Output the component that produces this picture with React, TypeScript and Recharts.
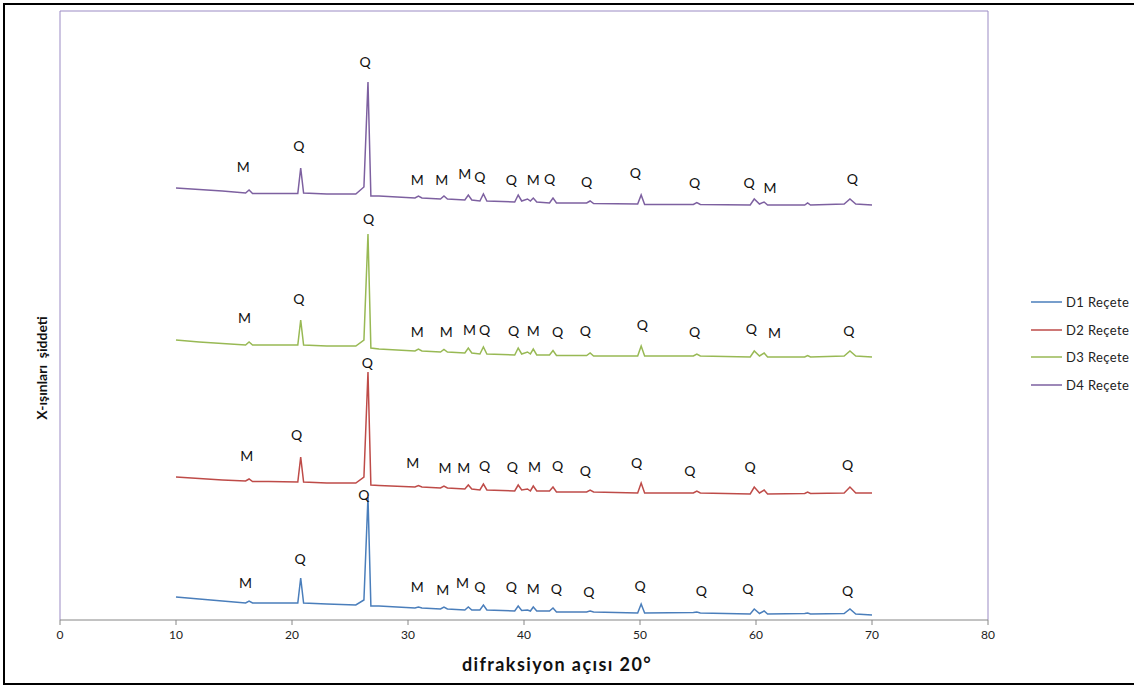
import { ComposedChart, Line, XAxis, YAxis, Legend, ReferenceDot, ReferenceLine } from 'recharts';

// 2θ sampling positions shared by the four diffractograms
const twoTheta = [
  10, 12, 14, 16, 16.3, 16.6, 18, 20.5, 20.75, 21.0, 23, 25.5, 26.2, 26.55, 26.8, 27.5,
  30.6, 30.9, 31.2, 32.8, 33.1, 33.4, 34.9, 35.2, 35.5, 36.2, 36.5, 36.8,
  39.2, 39.5, 39.8, 40.3, 40.55, 40.8, 41.1, 42.2, 42.5, 42.8, 45.4, 45.7, 46.0,
  49.8, 50.1, 50.4, 54.6, 54.9, 55.2, 59.5, 59.85, 60.3, 60.7, 61.0,
  64.2, 64.45, 64.7, 67.6, 68.1, 68.6, 70,
];

// intensities (a.u.), curves are stacked with an offset so they don't overlap
const d1 = [
  23, 21, 19, 17, 19, 17, 17, 17, 42, 17, 16, 15, 20, 123, 14, 14,
  12, 13, 12, 11, 13, 11, 10, 13, 10, 10, 15, 10,
  9, 14, 9.5, 10, 9, 13, 9, 9, 12, 8, 8, 9, 8,
  7, 16, 7, 7.5, 8, 7, 6, 11, 6.5, 9, 6,
  6.5, 7, 6, 6.5, 11, 6, 5,
];
const d2 = [
  143, 141.5, 140, 139, 141, 138.5, 138.5, 138, 163, 138, 137, 137, 143, 248, 135, 134.5,
  133, 134.5, 133, 132, 134, 132, 131, 135, 131, 130, 136, 130,
  129, 135, 130, 131, 129, 134, 129, 129, 133, 128, 128, 130, 128,
  127, 137, 127, 127, 129, 127, 126, 133, 127, 130, 126,
  126.5, 128, 126.5, 127, 133, 127, 127,
];
const d3 = [
  280, 278, 276.5, 275, 278, 275, 275, 275, 300, 275, 274, 274, 280, 386, 272, 271,
  269, 271, 269, 268, 270.5, 268, 267, 272, 267, 266, 273, 266,
  265, 272, 266, 268, 266, 271, 265, 265, 269.5, 264.5, 264.5, 267, 264,
  264, 274, 264, 264, 266, 264, 263, 269, 264, 267, 263,
  263, 264.5, 263, 264, 269, 264, 263,
];
const d4 = [
  432, 430.5, 429, 427, 430, 426.5, 426.5, 426.5, 452, 427, 426, 426, 433, 538, 424, 424,
  422, 424, 422, 421, 424, 421, 420, 425, 420, 419, 426, 419,
  418, 425, 419, 421, 419, 422, 418, 417, 422, 417, 417, 419, 416.5,
  416, 425, 415.5, 415.5, 417.5, 415.5, 415, 421, 416, 418, 415,
  415, 417, 415, 416, 421, 416, 415,
];

// phase labels: [2θ, intensity, phase] (M = mika, Q = kuvars)
const d1Marks: [number, number, string][] = [
  [16.0, 37, 'M'], [20.7, 61, 'Q'], [26.2, 125, 'Q'], [30.8, 33, 'M'], [33.0, 30, 'M'],
  [34.7, 37, 'M'], [36.2, 33, 'Q'], [38.9, 33, 'Q'], [40.8, 31, 'M'], [42.8, 31, 'Q'],
  [45.6, 28, 'Q'], [50.0, 34, 'Q'], [55.3, 29, 'Q'], [59.3, 31, 'Q'], [67.9, 29, 'Q'],
];
const d2Marks: [number, number, string][] = [
  [16.1, 164, 'M'], [20.4, 185, 'Q'], [26.5, 257, 'Q'], [30.4, 157, 'M'], [33.2, 152, 'M'],
  [34.8, 152, 'M'], [36.6, 154, 'Q'], [39.0, 153, 'Q'], [40.9, 153, 'M'], [42.9, 154, 'Q'],
  [45.3, 149, 'Q'], [49.7, 157, 'Q'], [54.3, 149, 'Q'], [59.5, 153, 'Q'], [67.9, 155, 'Q'],
];
const d3Marks: [number, number, string][] = [
  [15.9, 302, 'M'], [20.6, 321, 'Q'], [26.6, 401, 'Q'], [30.8, 288, 'M'], [33.3, 288, 'M'],
  [35.3, 290, 'M'], [36.6, 290, 'Q'], [39.1, 289, 'Q'], [40.8, 289, 'M'], [42.9, 288, 'Q'],
  [45.3, 289, 'Q'], [50.2, 295, 'Q'], [54.7, 288, 'Q'], [59.6, 291, 'Q'], [61.6, 287, 'M'],
  [68.0, 289, 'Q'],
];
const d4Marks: [number, number, string][] = [
  [15.8, 453, 'M'], [20.6, 474, 'Q'], [26.3, 558, 'Q'], [30.8, 440, 'M'], [32.9, 440, 'M'],
  [34.9, 446, 'M'], [36.2, 443, 'Q'], [38.9, 440, 'Q'], [40.8, 440, 'M'], [42.2, 441, 'Q'],
  [45.4, 438, 'Q'], [49.6, 447, 'Q'], [54.7, 437, 'Q'], [59.4, 437, 'Q'], [61.2, 432, 'M'],
  [68.3, 441, 'Q'],
];

const xTicks = [0, 10, 20, 30, 40, 50, 60, 70, 80];
const yMax = 609;

const series = [
  { key: 'd1', name: 'D1 Reçete', color: '#4a7ebb' },
  { key: 'd2', name: 'D2 Reçete', color: '#be4b48' },
  { key: 'd3', name: 'D3 Reçete', color: '#98b954' },
  { key: 'd4', name: 'D4 Reçete', color: '#7d60a0' },
];

const rows = twoTheta.map((t, i) => ({ t, d1: d1[i], d2: d2[i], d3: d3[i], d4: d4[i] }));
const allMarks = [...d1Marks, ...d2Marks, ...d3Marks, ...d4Marks];

const frameColor = '#9b8bc4';

function renderLegend(props: any) {
  const payload = props.payload ?? [];
  return (
    <div>
      {payload.map((e: any) => (
        <div key={e.value} style={{ display: 'flex', alignItems: 'center', height: 27.7 }}>
          <svg width={31} height={4}>
            <line x1={0} y1={2} x2={31} y2={2} stroke={e.color} strokeWidth={1.5} />
          </svg>
          <span style={{ marginLeft: 4, fontSize: 13, color: '#222', letterSpacing: 0.4 }}>{e.value}</span>
        </div>
      ))}
    </div>
  );
}

export default function App() {
  return (
    <div style={{ position: 'relative', width: 1134, height: 686, overflow: 'hidden', background: '#fff', fontFamily: 'Lato, sans-serif' }}>
      <style>{'body{margin:0}'}</style>
      <div
        style={{
          position: 'absolute', left: 3, top: 3, width: 1140, height: 682,
          border: '2px solid #000', boxSizing: 'border-box', pointerEvents: 'none',
        }}
      />
      <ComposedChart width={1134} height={686} data={rows} margin={{ top: 11, right: 146, bottom: 10, left: 0 }}>
        <XAxis
          dataKey="t"
          type="number"
          domain={[0, 80]}
          ticks={xTicks}
          height={56}
          stroke="#868686"
          tickSize={5}
          tickMargin={5}
          tick={{ fill: '#222', fontSize: 12 }}
          label={() => (
            <text
              x={557}
              y={664}
              textAnchor="middle"
              dominantBaseline="central"
              fontWeight="bold"
              fontSize={18}
              letterSpacing={1.4}
              fill="#111"
            >
              difraksiyon açısı 20°
            </text>
          )}
        />
        <YAxis
          type="number"
          domain={[0, yMax]}
          width={60}
          tick={false}
          tickLine={false}
          axisLine={false}
          label={() => (
            <text
              x={41}
              y={368}
              transform="rotate(-90 41 368)"
              textAnchor="middle"
              dominantBaseline="central"
              fontWeight="bold"
              fontSize={14}
              fill="#111"
            >
              X-ışınları{'\u00a0 '}şiddeti
            </text>
          )}
        />
        <ReferenceLine x={0} stroke={frameColor} />
        <ReferenceLine x={80} stroke={frameColor} />
        <ReferenceLine y={yMax} stroke={frameColor} />
        {series.map((s) => (
          <Line
            key={s.key}
            dataKey={s.key}
            name={s.name}
            stroke={s.color}
            strokeWidth={1.5}
            type="linear"
            dot={false}
            activeDot={false}
            isAnimationActive={false}
          />
        ))}
        {allMarks.map(([t, v, p], i) => (
          <ReferenceDot
            key={i}
            x={t}
            y={v}
            r={0}
            fill="none"
            stroke="none"
            label={{ value: p, position: 'center', fill: '#111', fontSize: 14 }}
          />
        ))}
        <Legend
          layout="vertical"
          align="center"
          verticalAlign="middle"
          content={renderLegend}
          wrapperStyle={{ left: 1031, top: 288, width: 103 }}
        />
      </ComposedChart>
    </div>
  );
}
